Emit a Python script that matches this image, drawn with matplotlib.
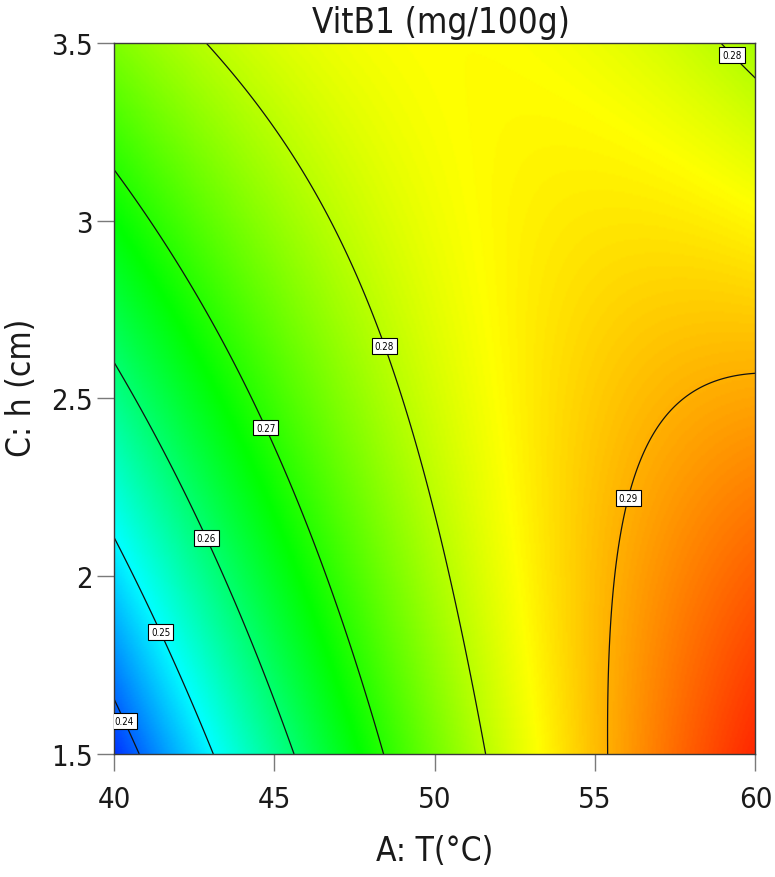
import numpy as np
import matplotlib
matplotlib.use("Agg")
import matplotlib.pyplot as plt
from matplotlib.colors import LinearSegmentedColormap

# ---- data: fitted quadratic response-surface model (coded units) ----
# Y = b0 + bA*A + bC*C + bAC*A*C + bAA*A^2 + bCC*C^2
model_terms = ["Intercept", "A", "C", "AC", "A^2", "C^2"]
model_coefs = [0.28173, 0.01637, 0.00474, -0.01505, -0.00736, -0.00179]
T_range = [40, 60]      # A: T (°C)
h_range = [1.5, 3.5]    # C: h (cm)
color_range = [0.233, 0.302]   # response range mapped blue -> red
contour_levels = [0.24, 0.25, 0.26, 0.27, 0.28, 0.29]
x_ticks = [40, 45, 50, 55, 60]
y_ticks = [1.5, 2, 2.5, 3, 3.5]
y_tick_labels = ["1.5", "2", "2.5", "3", "3.5"]
title = "VitB1 (mg/100g)"
x_label = "A: T(°C)"
y_label = "C: h (cm)"
# label anchor points (T, h) for contour labels
label_T = [40.5, 41.5, 42.96, 44.77, 48.43, 59.3, 56.0]
label_h = [1.6, 1.844, 2.11, 2.42, 2.648, 3.47, 2.22]

plt.rcParams['font.family'] = ['DejaVu Sans']
plt.rcParams['font.stretch'] = 'condensed'

T = np.linspace(T_range[0], T_range[1], 400)
H = np.linspace(h_range[0], h_range[1], 400)
TT, HH = np.meshgrid(T, H)
A = (TT - 50) / 10
C = (HH - 2.5) / 1
b0, bA, bC, bAC, bAA, bCC = model_coefs
Z = b0 + bA * A + bC * C + bAC * A * C + bAA * A ** 2 + bCC * C ** 2

fig = plt.figure(figsize=(7.75, 8.78), dpi=100)
ax = fig.add_axes([0.1471, 0.1401, 0.8277, 0.8098])

cmap = LinearSegmentedColormap.from_list(
    "de", ['#0000ff', '#00ffff', '#00ff00', '#ffff00', '#ff0000'])
ax.pcolormesh(TT, HH, Z, cmap=cmap, shading='gouraud', rasterized=True,
              vmin=color_range[0], vmax=color_range[1])
cs = ax.contour(TT, HH, Z, levels=contour_levels, colors='#111111', linewidths=0.9)
texts = ax.clabel(cs, fmt='%.2f', fontsize=7, inline=False,
                  manual=list(zip(label_T, label_h)))
for t in texts:
    t.set_rotation(0)
    t.set_color('black')
    t.set_bbox(dict(facecolor='white', edgecolor='black', linewidth=0.8,
                    boxstyle='square,pad=0.3'))

ax.set_xlim(T_range)
ax.set_ylim(h_range)
ax.set_xticks(x_ticks)
ax.set_xticklabels([str(v) for v in x_ticks])
ax.set_yticks(y_ticks)
ax.set_yticklabels(y_tick_labels)
ax.tick_params(axis='both', which='major', length=12, width=1.0,
               color='#7a7a7a', labelsize=21, labelcolor='#1a1a1a')
ax.tick_params(axis='x', pad=10)
ax.tick_params(axis='y', pad=3.5)
for s in ax.spines.values():
    s.set_color('#3a3a3a')
    s.set_linewidth(1.0)

ax.set_xlabel(x_label, fontsize=24, color='#1a1a1a', va='center')
ax.xaxis.set_label_coords(0.5, -0.1357)
ax.set_ylabel(y_label, fontsize=24, color='#1a1a1a', va='center')
ax.yaxis.set_label_coords(-0.1439, 0.516)
ax.set_title(title, fontsize=25, color='#1a1a1a', x=0.509, y=1.0295,
             va='center', pad=0)

fig.savefig("out.png", dpi=100)
